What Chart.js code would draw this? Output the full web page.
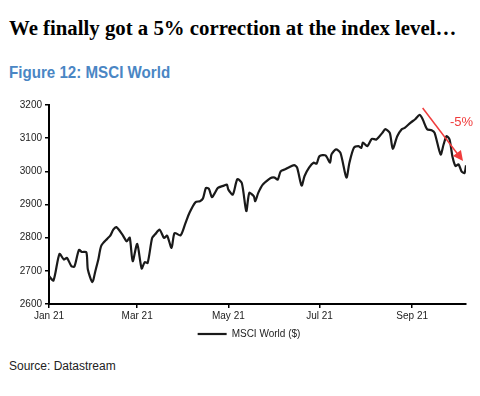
<!DOCTYPE html>
<html>
<head>
<meta charset="utf-8">
<script src="https://cdn.jsdelivr.net/npm/chart.js@4.4.0/dist/chart.umd.min.js"></script>
<style>
  body { margin: 0; background: #fff; width: 480px; height: 396px; position: relative; overflow: hidden; }
  #title { position: absolute; left: 9px; top: 16px; font: bold 20.8px 'Liberation Serif', 'Times New Roman', serif; color: #000; white-space: nowrap; }
  #fig { position: absolute; left: 9px; top: 63px; font: bold 17px 'Liberation Sans', Arial, sans-serif; color: #4a86c4; white-space: nowrap; transform: scaleX(0.89); transform-origin: left top; }
  #source { position: absolute; left: 9px; top: 359px; font: 12px 'Liberation Sans', Arial, sans-serif; color: #222; }
  #box { position: absolute; left: 0; top: 96px; width: 480px; height: 253px; }
</style>
</head>
<body>
<div id="title">We finally got a 5% correction at the index level…</div>
<div id="fig">Figure 12: MSCI World</div>
<div id="box"><canvas id="myChart"></canvas></div>
<div id="source">Source: Datastream</div>
<script>
// days since 1 Jan 2021
const days = [0, 3, 7, 10, 12, 15, 17, 20, 22, 25, 26, 29, 31, 33, 35, 39, 41, 43, 45, 49,
    52, 54, 56, 59, 62, 64, 66, 69, 71, 74, 77, 79, 82, 84, 88, 91, 94, 98, 101, 103,
    105, 107, 109, 111, 113, 117, 119, 120, 123, 126, 129, 132, 134, 137, 138, 140, 143, 147, 149, 151,
    153, 155, 158, 160, 164, 166, 169, 171, 174, 177, 179, 181, 185, 188, 189, 192, 195, 199, 201, 204,
    207, 209, 210, 213, 216, 219, 223, 225, 228, 230, 233, 236, 238, 242, 245, 248, 250, 253, 256, 258,
    262, 264, 266, 268, 270, 272, 274, 276, 278, 279];
const msciWorld = [2684, 2671, 2751, 2734, 2739, 2714, 2713, 2763, 2757, 2756, 2704, 2666, 2699, 2734, 2776, 2797, 2806, 2824, 2832, 2810,
    2789, 2800, 2729, 2781, 2707, 2726, 2724, 2799, 2810, 2824, 2799, 2806, 2769, 2814, 2807, 2840, 2875, 2907, 2910, 2918,
    2950, 2947, 2922, 2935, 2950, 2957, 2960, 2945, 2930, 2976, 2965, 2880, 2935, 2925, 2910, 2935, 2960, 2976, 2981, 2981,
    2975, 3000, 3006, 3011, 3019, 3011, 2957, 2986, 3011, 3026, 3023, 3046, 3048, 3026, 3051, 3066, 3056, 2981, 3026, 3071,
    3076, 3071, 3087, 3076, 3098, 3096, 3116, 3127, 3116, 3068, 3106, 3127, 3131, 3147, 3157, 3170, 3157, 3127, 3124, 3116,
    3051, 3081, 3106, 3096, 3043, 3016, 3021, 3000, 2995, 3018];
const tickDays = [0, 59, 120, 181, 243];
const tickLabels = ['Jan 21', 'Mar 21', 'May 21', 'Jul 21', 'Sep 21'];
const yTicks = [2600, 2700, 2800, 2900, 3000, 3100, 3200];

// -5% arrow, in data units (day, value)
const arrowFrom = [250, 3191];
const arrowTo = [277, 3031];
const arrowLabel = '-5%';
const arrowLabelAt = [276, 3147];

const labelFont = { family: "'Liberation Sans', Arial, sans-serif", size: 10 };

const arrowPlugin = {
    id: 'arrow',
    afterLayout(chart) {
        // legend sits centred under the plot area, not the canvas
        chart.legend.left += 16;
        chart.legend.right += 16;
    },
    afterDatasetsDraw(chart) {
        const ctx = chart.ctx;
        const x = chart.scales.x, y = chart.scales.y;
        const x1 = x.getPixelForValue(arrowFrom[0]), y1 = y.getPixelForValue(arrowFrom[1]);
        const x2 = x.getPixelForValue(arrowTo[0]), y2 = y.getPixelForValue(arrowTo[1]);
        const ang = Math.atan2(y2 - y1, x2 - x1);
        ctx.save();
        ctx.strokeStyle = '#f03c3c';
        ctx.fillStyle = '#f03c3c';
        ctx.lineWidth = 1.5;
        ctx.beginPath();
        ctx.moveTo(x1, y1);
        ctx.lineTo(x2 - 8 * Math.cos(ang), y2 - 8 * Math.sin(ang));
        ctx.stroke();
        ctx.beginPath();
        ctx.moveTo(x2, y2);
        ctx.lineTo(x2 - 10 * Math.cos(ang) + 5 * Math.sin(ang), y2 - 10 * Math.sin(ang) - 5 * Math.cos(ang));
        ctx.lineTo(x2 - 10 * Math.cos(ang) - 5 * Math.sin(ang), y2 - 10 * Math.sin(ang) + 5 * Math.cos(ang));
        ctx.closePath();
        ctx.fill();
        ctx.font = "13px 'Liberation Sans', Arial, sans-serif";
        ctx.textAlign = 'center';
        ctx.textBaseline = 'middle';
        ctx.fillText(arrowLabel, x.getPixelForValue(arrowLabelAt[0]), y.getPixelForValue(arrowLabelAt[1]));
        ctx.restore();
    }
};

const ctx = document.getElementById('myChart').getContext('2d');
const myChart = new Chart(ctx, {
    type: 'line',
    data: {
        datasets: [{
            label: 'MSCI World ($)',
            data: days.map((d, i) => ({ x: d, y: msciWorld[i] })),
            borderColor: '#1a1a1a',
            backgroundColor: '#1a1a1a',
            borderWidth: 2.2,
            pointRadius: 0,
            tension: 0.25,
        }]
    },
    options: {
        responsive: true,
        maintainAspectRatio: false,
        animation: false,
        layout: { padding: { top: 8, right: 14, left: 0, bottom: 0 } },
        plugins: {
            tooltip: { enabled: false },
            legend: {
                position: 'bottom',
                labels: {
                    color: '#222',
                    font: labelFont,
                    usePointStyle: true,
                    pointStyle: 'line',
                    pointStyleWidth: 29,
                    boxHeight: 2,
                    padding: 5,
                }
            }
        },
        scales: {
            x: {
                type: 'linear',
                min: 0,
                max: 279,
                afterBuildTicks: s => { s.ticks = tickDays.map(v => ({ value: v })); },
                ticks: {
                    color: '#222',
                    font: labelFont,
                    padding: 2,
                    maxRotation: 0,
                    callback: v => tickLabels[tickDays.indexOf(v)],
                },
                grid: { drawOnChartArea: false, drawTicks: true, tickLength: 4, color: '#000', lineWidth: 1.5 },
                border: { color: '#000', width: 2 },
            },
            y: {
                min: 2600,
                max: 3200,
                afterBuildTicks: s => { s.ticks = yTicks.map(v => ({ value: v })); },
                afterFit: s => { s.width = 49; },
                ticks: { color: '#222', font: labelFont, padding: 3, callback: v => String(v) },
                grid: { drawOnChartArea: false, drawTicks: true, tickLength: 4, color: '#000', lineWidth: 1.5 },
                border: { color: '#000', width: 2 },
            }
        }
    },
    plugins: [arrowPlugin]
});
</script>
</body>
</html>
